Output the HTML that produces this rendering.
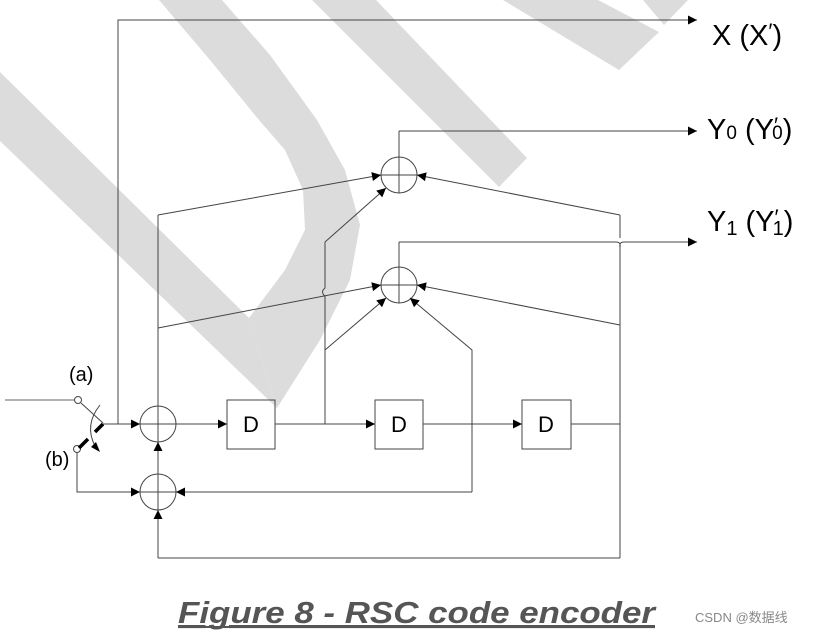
<!DOCTYPE html>
<html><head><meta charset="utf-8"><style>
html,body{margin:0;padding:0;background:#fff;width:823px;height:635px;overflow:hidden}
svg{display:block}
text{font-family:"Liberation Sans","DejaVu Sans",sans-serif}
</style></head><body>
<svg width="823" height="635" viewBox="0 0 823 635" xmlns="http://www.w3.org/2000/svg">
<defs>
<marker id="ar" viewBox="0 0 10 10" refX="10" refY="5" markerWidth="11" markerHeight="9" markerUnits="userSpaceOnUse" orient="auto">
<path d="M0,0 L10,5 L0,10 z" fill="#000"/></marker>
</defs>
<!-- watermark -->
<g fill="#dcdcdc">
<polygon points="0,72 249,318 277,408 0,141"/>
<polygon points="249,318 285,270 305,230 303,190 285,150 259,120 210,60 159,0 222,0 270,55 317,120 345,170 360,225 350,280 320,340 277,408"/>
<polygon points="312,0 376,0 527,158 499,187"/>
<polygon points="503,0 598,0 659,32 619,70"/>
<polygon points="643,0 688,0 664,25"/>
</g>
<g stroke="#444" stroke-width="1" fill="none">
<polyline points="118,424 118,20 697,20" marker-end="url(#ar)"/>
<line x1="5" y1="400" x2="75" y2="400" stroke="#666"/>
<circle cx="78" cy="400" r="3.5"/>
<line x1="81" y1="403" x2="103" y2="423"/>
<path d="M100,405 Q84,425 95,446"/>
<circle cx="77" cy="449" r="3.5"/>
<line x1="103" y1="424" x2="140" y2="424" marker-end="url(#ar)"/>
<circle cx="158" cy="424" r="18"/>
<circle cx="158" cy="492" r="18"/>
<circle cx="399" cy="175" r="18"/>
<circle cx="399" cy="285" r="18"/>
<line x1="140" y1="424" x2="176" y2="424"/>
<line x1="140" y1="492" x2="176" y2="492"/>
<line x1="381" y1="175" x2="417" y2="175"/>
<line x1="381" y1="285" x2="417" y2="285"/>
<line x1="399" y1="193" x2="399" y2="131"/>
<line x1="399" y1="303" x2="399" y2="242"/>
<polyline points="399,131 697,131" marker-end="url(#ar)"/>
<path d="M399,242 L616,242 Q621,242 620,247 Q619,242 624,242 L697,242" marker-end="url(#ar)"/>
<line x1="158" y1="215" x2="158" y2="406"/>
<line x1="158" y1="474" x2="158" y2="442" marker-end="url(#ar)"/>
<line x1="158" y1="474" x2="158" y2="510"/>
<line x1="158" y1="558" x2="158" y2="510" marker-end="url(#ar)"/>
<line x1="158" y1="406" x2="158" y2="442"/>
<rect x="227" y="400" width="48" height="49"/>
<rect x="375" y="400" width="48" height="49"/>
<rect x="522" y="400" width="49" height="49"/>
<line x1="176" y1="424" x2="227" y2="424" marker-end="url(#ar)"/>
<line x1="275" y1="424" x2="375" y2="424" marker-end="url(#ar)"/>
<line x1="423" y1="424" x2="522" y2="424" marker-end="url(#ar)"/>
<line x1="571" y1="424" x2="620" y2="424"/>
<path d="M325,424 L325,296 Q320,292 325,288 L325,242"/>
<line x1="325" y1="242" x2="386" y2="188" marker-end="url(#ar)"/>
<line x1="325" y1="350" x2="386" y2="298" marker-end="url(#ar)"/>
<polyline points="472,492 472,350 410,298" marker-end="url(#ar)"/>
<line x1="472" y1="492" x2="176" y2="492" marker-end="url(#ar)"/>
<path d="M620,558 L620,247 M620,238 L620,215"/>
<line x1="620" y1="215" x2="417" y2="175" marker-end="url(#ar)"/>
<line x1="620" y1="325" x2="417" y2="285" marker-end="url(#ar)"/>
<polyline points="620,558 158,558"/>
<line x1="158" y1="215" x2="381" y2="175" marker-end="url(#ar)"/>
<line x1="158" y1="328" x2="381" y2="285" marker-end="url(#ar)"/>
<polyline points="77,453 77,492 140,492" marker-end="url(#ar)"/>
</g>
<g stroke="#000" stroke-width="3.5" stroke-linecap="butt">
<line x1="95" y1="432" x2="103" y2="424"/>
<line x1="79" y1="448" x2="88" y2="439"/>
</g>
<path d="M91,447 L100,452 L96,442 z" fill="#000"/>
<g fill="#000" font-size="20">
<text x="69" y="381">(a)</text>
<text x="45" y="466">(b)</text>
</g>
<g fill="#000" font-size="22" text-anchor="middle">
<text x="251" y="432">D</text>
<text x="399" y="432">D</text>
<text x="546" y="432">D</text>
</g>
<g fill="#000" font-size="29">
<text x="712" y="45">X (X<tspan font-size="22" dy="-6">′</tspan><tspan dy="6">)</tspan></text>
<text x="707" y="139">Y<tspan font-size="19">0</tspan> (Y<tspan font-size="22" dy="-6">′</tspan><tspan font-size="19" dy="6" dx="-6">0</tspan>)</text>
<text x="707" y="231">Y<tspan font-size="20" dy="4">1</tspan><tspan dy="-4"> (Y</tspan><tspan font-size="22" dy="-6">′</tspan><tspan font-size="20" dy="10" dx="-6">1</tspan><tspan dy="-4">)</tspan></text>
</g>
<text x="178" y="623" font-size="31" font-weight="bold" font-style="italic" fill="#555" text-decoration="underline" textLength="477" lengthAdjust="spacingAndGlyphs">Figure 8 - RSC code encoder</text>
<line x1="178" y1="627" x2="655" y2="627" stroke="#555" stroke-width="2"/>
<text x="695" y="622" font-size="13" fill="#888" font-family="Liberation Sans, Noto Sans CJK SC, sans-serif">CSDN @数据线</text>
</svg>
</body></html>
